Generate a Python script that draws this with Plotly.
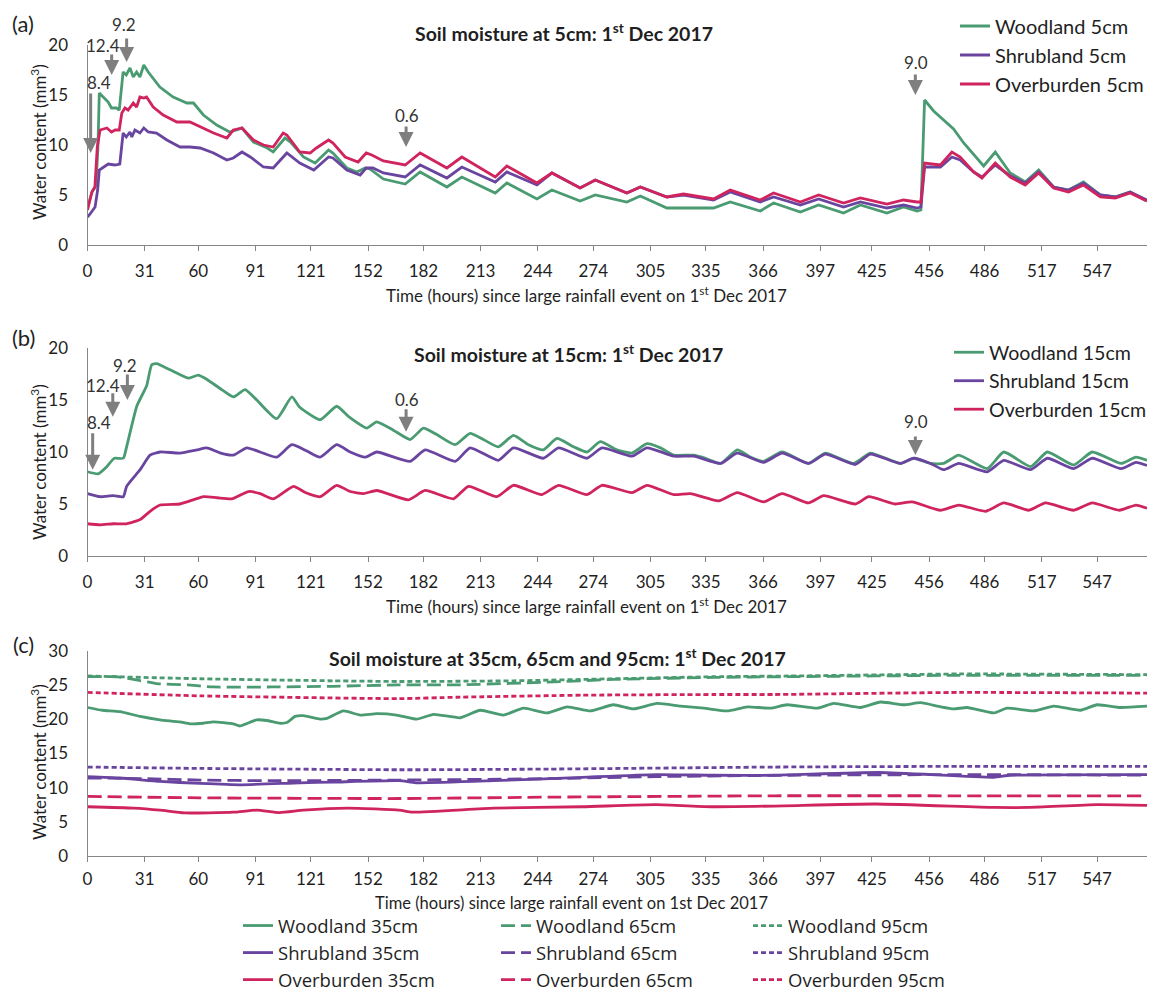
import plotly.graph_objects as go

W, H = 1157, 992

# ---------------- data ----------------
tick_vals = [0, 31, 60, 91, 121, 152, 182, 213, 244, 274, 305, 335, 366, 397, 425, 456, 486, 517, 547]

# Panel (a) 5 cm
wood5_x = [0, 2.4, 4.5, 5.6, 6.4, 8.6, 11.2, 13.0, 15.7, 17.2, 18.6, 19.3, 21.0, 23.0, 24.8, 26.6, 28.4, 30.5, 32.9,
           39.2, 46.4, 53.8, 57.4, 62.8, 70.0, 77.0, 80.7, 83.7, 89.9, 97.4, 100.6, 107.0, 110.0, 117.0, 123.3, 130.6,
           133.0, 140.5, 146.0, 150.4, 153.0, 160.3, 172.1, 180.2, 194.7, 202.8, 220.9, 227.2, 243.5, 251.6, 266.9,
           275.1, 292.2, 299.5, 313.9, 332.0, 339.2, 348.2, 364.5, 371.7, 386.2, 396.1, 409.6, 418.7, 433.1, 442.1,
           449.4, 451.5, 453.5, 458.4, 465.6, 469.2, 474.7, 480.1, 485.5, 491.8, 499.9, 508.0, 515.3, 523.4, 531.5,
           539.6, 548.7, 556.8, 564.9, 573.9]
wood5_y = [3.7, 5.3, 5.9, 9.5, 15.2, 14.8, 14.3, 13.7, 13.7, 13.5, 16.2, 17.3, 17.0, 17.7, 16.8, 17.3, 16.8, 18.0, 17.3,
           15.8, 14.8, 14.2, 14.2, 13.0, 12.0, 11.3, 11.5, 11.7, 10.3, 9.7, 9.3, 10.7, 10.3, 8.8, 8.2, 9.5,
           9.2, 7.7, 7.3, 7.7, 7.6, 6.6, 6.1, 7.3, 5.8, 6.8, 5.2, 6.2, 4.6, 5.5, 4.4,
           5.0, 4.3, 4.9, 3.7, 3.7, 3.7, 4.3, 3.4, 4.2, 3.3, 4.0, 3.2, 4.0, 3.2, 3.8,
           3.4, 3.5, 14.5, 13.4, 12.2, 11.6, 10.2, 9.0, 7.9, 9.3, 7.2, 6.3, 7.5, 5.8, 5.5,
           6.3, 5.0, 4.8, 5.3, 4.4]

over5_x = [0, 2.4, 4.0, 5.3, 6.8, 10.5, 13.0, 15.0, 17.2, 18.6, 20.3, 22.0, 24.8, 26.6, 28.4, 30.5, 32.0, 35.6, 41.0,
           48.4, 55.5, 61.0, 68.3, 75.5, 79.0, 83.7, 89.9, 95.3, 100.6, 106.0, 108.0, 115.0, 120.6, 124.0, 130.6,
           133.0, 139.6, 146.6, 151.0, 154.0, 160.3, 172.1, 180.2, 194.7, 202.8, 220.9, 227.2, 243.5, 251.6, 266.9,
           275.1, 292.2, 299.5, 313.9, 322.9, 339.2, 348.2, 364.5, 371.7, 386.2, 396.1, 409.6, 418.7, 433.1, 442.1,
           449.4, 451.5, 453.5, 462.1, 468.3, 472.8, 480.1, 484.6, 491.8, 499.9, 508.0, 515.3, 523.4, 531.5, 539.6,
           548.7, 556.8, 564.9, 573.9]
over5_y = [3.5, 5.3, 5.8, 9.8, 11.5, 11.7, 11.3, 11.5, 11.5, 13.2, 13.7, 13.5, 14.2, 13.8, 14.8, 14.7, 14.8, 13.8, 13.0,
           12.3, 12.3, 11.8, 11.2, 10.7, 11.5, 11.7, 10.5, 10.0, 9.8, 11.2, 11.0, 9.3, 9.2, 9.7, 10.5,
           10.2, 8.8, 8.3, 9.2, 9.0, 8.4, 8.0, 9.2, 7.7, 8.8, 6.8, 7.9, 6.2, 7.2, 5.7,
           6.5, 5.2, 5.8, 4.8, 5.1, 4.6, 5.5, 4.5, 5.2, 4.3, 5.0, 4.2, 4.7, 4.1, 4.5,
           4.3, 4.3, 8.2, 8.0, 9.3, 8.8, 7.3, 6.7, 8.2, 6.8, 6.0, 7.2, 5.7, 5.3, 6.0,
           4.8, 4.7, 5.2, 4.4]

shrub5_x = [0, 1.4, 4.1, 5.5, 6.4, 8.6, 11.2, 14.8, 17.5, 19.3, 21.0, 23.0, 24.0, 25.7, 28.4, 30.5, 32.9, 37.4, 43.0,
            50.1, 55.5, 61.0, 68.3, 75.5, 79.0, 83.7, 88.2, 95.3, 100.6, 108.0, 115.0, 122.6, 130.6, 133.0, 140.5,
            147.7, 151.0, 154.6, 160.3, 172.1, 180.2, 194.7, 202.8, 220.9, 227.2, 243.5, 251.6, 266.9, 275.1, 292.2,
            299.5, 313.9, 322.9, 339.2, 348.2, 364.5, 371.7, 386.2, 396.1, 409.6, 418.7, 433.1, 442.1, 449.4, 451.5,
            453.5, 462.1, 468.3, 472.8, 480.1, 484.6, 491.8, 499.9, 508.0, 515.3, 523.4, 531.5, 539.6, 548.7, 556.8,
            564.9, 573.9]
shrub5_y = [2.8, 3.1, 3.8, 5.5, 7.5, 7.8, 8.1, 8.0, 8.1, 11.2, 10.8, 11.3, 10.8, 11.5, 11.2, 11.7, 11.3, 11.2, 10.5,
            9.8, 9.8, 9.7, 9.2, 8.5, 8.7, 9.3, 8.8, 7.8, 7.7, 9.2, 8.2, 7.5, 8.8, 8.7, 7.5,
            7.0, 7.7, 7.7, 7.2, 6.8, 8.0, 6.7, 7.8, 6.3, 7.3, 6.0, 7.2, 5.7, 6.5, 5.2,
            5.8, 4.8, 5.0, 4.5, 5.3, 4.3, 4.8, 4.0, 4.6, 3.8, 4.3, 3.7, 4.0, 3.7, 3.8,
            7.8, 7.8, 8.8, 8.5, 7.3, 6.8, 8.0, 6.9, 6.2, 7.3, 5.8, 5.5, 6.2, 5.0, 4.8,
            5.3, 4.5]

# Panel (b) 15 cm
wood15_x = [0, 5.8, 10.0, 14.5, 19.4, 21.2, 26.7, 32.1, 34.8, 37.5, 44.7, 54.6, 60.0, 63.7, 72.7, 79.0, 85.4, 91.7,
            102.5, 110.7, 115.0, 126.0, 135.0, 141.5, 151.3, 156.7, 165.7, 174.8, 182.0, 189.0, 199.2, 207.3, 214.5,
            222.6, 230.8, 238.9, 247.0, 254.3, 263.3, 270.6, 277.8, 286.8, 295.0, 303.1, 310.4, 317.6, 328.5, 334.7,
            343.0, 352.0, 359.3, 366.3, 376.3, 390.7, 399.7, 415.0, 424.1, 440.3, 447.6, 456.7, 463.8, 472.0, 487.4,
            496.4, 511.0, 520.0, 534.3, 544.3, 560.0, 568.0, 574.0]
wood15_y = [8.1, 7.9, 8.5, 9.4, 9.4, 10.5, 14.4, 16.4, 18.4, 18.5, 17.9, 17.1, 17.4, 17.1, 16.0, 15.3, 16.0, 15.0,
            13.2, 15.3, 14.3, 13.1, 14.4, 13.4, 12.3, 12.9, 12.1, 11.2, 12.3, 11.7, 10.7, 11.8, 11.2,
            10.5, 11.6, 10.7, 10.2, 11.3, 10.5, 10.0, 11.0, 10.2, 9.9, 10.8, 10.4, 9.7, 9.7, 9.4,
            8.9, 10.2, 9.5, 9.1, 10.0, 8.9, 9.9, 8.9, 9.9, 8.9, 9.4, 8.9, 8.9, 9.7, 8.4,
            10.0, 8.6, 10.0, 8.75, 10.0, 8.9, 9.5, 9.2]

shrub15_x = [0, 6.8, 14.0, 19.4, 21.2, 28.5, 33.9, 39.3, 50.1, 59.2, 64.6, 72.2, 79.0, 86.3, 93.5, 102.5, 110.7,
             118.8, 126.0, 135.0, 142.3, 150.4, 156.7, 174.8, 182.9, 199.2, 207.3, 222.6, 230.8, 247.0, 255.2, 270.6,
             278.7, 295.0, 303.1, 317.6, 328.5, 343.0, 352.0, 366.3, 376.3, 390.7, 399.7, 416.0, 424.1, 440.3, 447.6,
             456.7, 463.8, 472.0, 487.4, 496.4, 511.0, 520.0, 534.3, 544.3, 560.0, 568.0, 574.0]
shrub15_y = [6.0, 5.7, 5.8, 5.7, 6.7, 8.3, 9.7, 10.0, 9.9, 10.2, 10.4, 9.9, 9.7, 10.4, 10.0, 9.5, 10.7,
             10.1, 9.5, 10.7, 10.0, 9.5, 10.0, 9.1, 10.2, 9.1, 10.4, 9.2, 10.4, 9.4, 10.4, 9.4,
             10.4, 9.6, 10.4, 9.6, 9.6, 8.9, 9.9, 9.0, 9.9, 8.9, 9.8, 8.8, 9.8, 8.9, 9.4,
             8.9, 8.3, 8.9, 8.1, 9.2, 8.3, 9.4, 8.4, 9.4, 8.4, 9.0, 8.7]

over15_x = [0, 6.8, 14.0, 21.2, 28.5, 33.9, 39.3, 50.1, 53.8, 63.0, 70.3, 78.2, 87.2, 93.5, 100.7, 111.6, 118.0,
            126.0, 135.0, 142.3, 149.5, 156.7, 173.9, 182.9, 198.3, 206.4, 221.7, 230.8, 246.1, 255.2, 270.6, 278.7,
            295.0, 303.1, 317.6, 326.6, 342.0, 352.0, 366.3, 376.3, 390.7, 398.8, 416.0, 423.2, 437.5, 446.7, 462.0,
            472.0, 486.5, 496.4, 510.0, 519.0, 534.3, 544.3, 559.0, 568.0, 574.0]
over15_y = [3.1, 3.0, 3.1, 3.1, 3.5, 4.3, 4.9, 5.0, 5.2, 5.7, 5.6, 5.5, 6.2, 6.0, 5.5, 6.7, 6.1,
            5.7, 6.8, 6.2, 6.0, 6.3, 5.4, 6.3, 5.5, 6.7, 5.7, 6.8, 5.9, 6.8, 5.9, 6.8,
            6.1, 6.8, 5.9, 6.0, 5.3, 6.1, 5.2, 6.0, 5.1, 5.8, 5.0, 5.7, 5.0, 5.2, 4.4,
            4.9, 4.3, 5.1, 4.4, 5.1, 4.4, 5.1, 4.4, 4.9, 4.6]

# Panel (c) 35/65/95 cm
wood35_x = [0, 8, 17.6, 28.5, 39.3, 50, 55.5, 62.8, 68.3, 79, 82.6, 91.7, 97.1, 104.4, 108, 112.5, 117, 126, 129.7,
            138.7, 147.7, 156.7, 167.5, 178.4, 187.5, 202, 212.7, 225.3, 236.2, 249, 259.9, 272.5, 284.9, 295.7,
            308.6, 321.3, 333.9, 346.6, 357.5, 370, 379, 395.3, 404.3, 418.8, 429.6, 442.3, 451.3, 462.2, 469.4,
            476.6, 491, 498.2, 512.6, 523.5, 538, 547, 559.7, 574]
wood35_y = [21.7, 21.3, 21.1, 20.4, 19.9, 19.6, 19.3, 19.4, 19.6, 19.3, 19.0, 19.9, 19.8, 19.4, 19.5, 20.4, 20.5, 20.0, 20.1,
            21.2, 20.6, 20.8, 20.6, 20.0, 20.7, 20.2, 21.3, 20.6, 21.6, 20.9, 21.8, 21.2, 22.1, 21.5,
            22.3, 21.9, 21.6, 21.2, 21.8, 21.6, 22.1, 21.6, 22.3, 21.7, 22.5, 22.1, 22.4, 21.8, 21.5,
            21.7, 20.9, 21.6, 21.2, 21.9, 21.3, 22.1, 21.7, 21.9]
wood65_x = [0, 15, 25, 37.4, 54, 68.3, 100, 133, 169, 200, 249, 285, 339, 380, 472, 574]
wood65_y = [26.2, 26.2, 25.8, 25.2, 25.0, 24.7, 24.7, 24.8, 25.0, 25.0, 25.4, 25.8, 26.1, 26.2, 26.4, 26.4]
wood95_x = [0, 61, 133, 169, 231, 285, 339, 380, 472, 574]
wood95_y = [26.3, 25.9, 25.6, 25.5, 25.6, 25.9, 26.2, 26.3, 26.6, 26.5]

shrub35_x = [0, 17.6, 39.3, 61, 82.6, 115, 133, 169, 178, 220, 268, 308, 339, 372, 429, 491, 500, 574]
shrub35_y = [11.6, 11.4, 10.9, 10.6, 10.4, 10.7, 10.8, 11.0, 10.7, 11.0, 11.5, 11.9, 11.8, 11.8, 12.2, 11.5, 11.8, 11.9]
shrub65_x = [0, 30, 61, 100, 169, 250, 308, 380, 480, 574]
shrub65_y = [11.4, 11.3, 11.1, 11.0, 11.1, 11.3, 11.6, 11.8, 11.9, 11.8]
shrub95_x = [0, 61, 169, 250, 372, 472, 574]
shrub95_y = [13.0, 12.8, 12.6, 12.7, 13.0, 13.1, 13.1]

over35_x = [0, 25, 39.3, 52.6, 79, 91.7, 104, 117, 141, 169, 176, 220, 268, 308, 339, 372, 427, 491, 510, 547, 574]
over35_y = [7.2, 7.0, 6.7, 6.3, 6.4, 6.7, 6.35, 6.7, 7.0, 6.7, 6.4, 7.0, 7.2, 7.5, 7.2, 7.3, 7.6, 7.1, 7.1, 7.5, 7.4]
over65_x = [0, 61, 169, 250, 372, 472, 574]
over65_y = [8.7, 8.5, 8.4, 8.6, 8.8, 8.8, 8.8]
over95_x = [0, 61, 169, 200, 268, 339, 372, 472, 574]
over95_y = [23.9, 23.4, 23.0, 23.2, 23.5, 23.6, 23.6, 23.9, 23.8]

# rainfall arrows: label, x position (hours), tip value, tail offset (px)
arrows_a = [("8.4", 1.7, 9.2, -61), ("12.4", 13.1, 17.0, -22), ("9.2", 21.2, 18.3, -25),
            ("0.6", 172.6, 9.8, -22), ("9.0", 448.5, 15.0, -22)]
arrows_b = [("8.4", 2.8, 8.3, -38), ("12.4", 13.7, 13.4, -25), ("9.2", 21.6, 15.0, -27),
            ("0.6", 172.6, 11.95, -24), ("9.0", 448.5, 9.7, -20)]
# label offsets (px) from arrow tail
label_off_a = [(8, -10), (-9, -8), (-3, -13), (1, -10), (1, -11)]
label_off_b = [(6, -9), (-10, -6), (-2, -8), (1, -8), (1, -14)]

# ---------------- style ----------------
GREEN = '#4A9B72'
PURPLE = '#6A45A0'
PINK = '#D0245E'
AXC = '#868686'
FONT = 'Lato, Carlito, Calibri, sans-serif'
TXT = '#1f1f1f'


def px(v):
    return v / W


def py(v):
    return 1 - v / H


fig = go.Figure()


def add(x, y, name, color, xa, ya, legend, dash='solid', shape='linear'):
    fig.add_trace(go.Scatter(x=x, y=y, name=name, mode='lines', xaxis=xa, yaxis=ya, legend=legend,
                             line=dict(color=color, width=2.8, dash=dash, shape=shape, smoothing=0.5)))


add(wood5_x, wood5_y, 'Woodland 5cm', GREEN, 'x', 'y', 'legend')
add(shrub5_x, shrub5_y, 'Shrubland 5cm', PURPLE, 'x', 'y', 'legend')
add(over5_x, over5_y, 'Overburden 5cm', PINK, 'x', 'y', 'legend')

add(wood15_x, wood15_y, 'Woodland 15cm', GREEN, 'x2', 'y2', 'legend2', shape='spline')
add(shrub15_x, shrub15_y, 'Shrubland 15cm', PURPLE, 'x2', 'y2', 'legend2', shape='spline')
add(over15_x, over15_y, 'Overburden 15cm', PINK, 'x2', 'y2', 'legend2', shape='spline')

LD = '14px,6px'
SD = '5px,3px'
add(wood35_x, wood35_y, 'Woodland 35cm', GREEN, 'x3', 'y3', 'legend3', shape='spline')
add(shrub35_x, shrub35_y, 'Shrubland 35cm', PURPLE, 'x3', 'y3', 'legend3', shape='spline')
add(over35_x, over35_y, 'Overburden 35cm', PINK, 'x3', 'y3', 'legend3', shape='spline')
add(wood65_x, wood65_y, 'Woodland 65cm', GREEN, 'x3', 'y3', 'legend4', LD, 'spline')
add(shrub65_x, shrub65_y, 'Shrubland 65cm', PURPLE, 'x3', 'y3', 'legend4', LD, 'spline')
add(over65_x, over65_y, 'Overburden 65cm', PINK, 'x3', 'y3', 'legend4', LD, 'spline')
add(wood95_x, wood95_y, 'Woodland 95cm', GREEN, 'x3', 'y3', 'legend5', SD, 'spline')
add(shrub95_x, shrub95_y, 'Shrubland 95cm', PURPLE, 'x3', 'y3', 'legend5', SD, 'spline')
add(over95_x, over95_y, 'Overburden 95cm', PINK, 'x3', 'y3', 'legend5', SD, 'spline')

xdom = [px(87.5), px(1147)]
panels = [(45, 245, 20, 6), (348, 556, 20, 6), (650.7, 856, 30, 3)]

layout = dict(width=W, height=H, margin=dict(l=0, r=0, t=0, b=0, autoexpand=False),
              paper_bgcolor='white', plot_bgcolor='white',
              font=dict(family=FONT, size=17, color=TXT), showlegend=True)

for i, (top, bot, ymax, stand) in enumerate(panels):
    sfx = '' if i == 0 else str(i + 1)
    layout['xaxis' + sfx] = dict(domain=xdom, anchor='y' + sfx, range=[0, 574], tickmode='array',
                                 tickvals=tick_vals, ticktext=[str(t) for t in tick_vals],
                                 ticks='outside', ticklen=5, tickcolor=AXC, showline=True, linecolor=AXC,
                                 linewidth=1, showgrid=False, zeroline=False, ticklabelstandoff=stand,
                                 automargin=False, tickfont=dict(size=17, family=FONT, color=TXT))
    layout['yaxis' + sfx] = dict(domain=[py(bot), py(top)], anchor='x' + sfx, range=[0, ymax], dtick=5,
                                 ticks='', showline=True, linecolor=AXC, linewidth=1, showgrid=False,
                                 zeroline=False, ticklabelstandoff=15, automargin=False,
                                 tickfont=dict(size=17, family=FONT, color=TXT))

leg_common = dict(bgcolor='rgba(0,0,0,0)', borderwidth=0, xanchor='left', yanchor='top', orientation='v',
                  traceorder='normal')
layout['legend'] = dict(leg_common, x=px(955), y=py(6.5), font=dict(size=20, family=FONT, color=TXT))
layout['legend2'] = dict(leg_common, x=px(949), y=py(333), font=dict(size=19.6, family=FONT, color=TXT))
LEGC = dict(size=18.5, family='Open Sans, Lato, sans-serif', color=TXT)
layout['legend3'] = dict(leg_common, x=px(238), y=py(907), font=LEGC)
layout['legend4'] = dict(leg_common, x=px(496), y=py(907), font=LEGC)
layout['legend5'] = dict(leg_common, x=px(748), y=py(907), font=LEGC)

ann = []


def txt(text, x, y, size=16, bold=False, angle=0, xanchor='center'):
    ann.append(dict(text=('<b>%s</b>' % text) if bold else text, x=px(x), y=py(y), xref='paper', yref='paper',
                    showarrow=False, xanchor=xanchor, yanchor='middle', textangle=angle,
                    font=dict(size=size, family=FONT, color=TXT)))


txt('(a)', 23, 23, size=22)
txt('(b)', 23, 337, size=22)
txt('(c)', 23, 644, size=22)
txt('Soil moisture at 5cm: 1<sup>st</sup> Dec 2017', 564, 33, size=19.5, bold=True)
txt('Soil moisture at 15cm: 1<sup>st</sup> Dec 2017', 568, 353, size=19.5, bold=True)
txt('Soil moisture at 35cm, 65cm and 95cm: 1<sup>st</sup> Dec 2017', 557, 657, size=19.5, bold=True)
txt('Time (hours) since large rainfall event on 1<sup>st</sup> Dec 2017', 586, 294, size=17)
txt('Time (hours) since large rainfall event on 1<sup>st</sup> Dec 2017', 586, 605, size=17)
txt('Time (hours) since large rainfall event on 1st Dec 2017', 571, 903, size=16.5)
for yc in (142, 462, 762):
    txt('Water content (mm<sup>3</sup>)', 38, yc, size=17, angle=-90)

for arrows, offs, xr, yr in ((arrows_a, label_off_a, 'x', 'y'), (arrows_b, label_off_b, 'x2', 'y2')):
    for (lab, xv, yv, tail), (dx, dy) in zip(arrows, offs):
        ann.append(dict(text='', x=xv, y=yv, xref=xr, yref=yr, showarrow=True, ax=0, ay=tail,
                        arrowhead=2, arrowsize=1, arrowwidth=3, arrowcolor='#7f7f7f', standoff=0))
        ann.append(dict(text=lab, x=xv, y=yv, xref=xr, yref=yr, showarrow=False,
                        xshift=dx, yshift=-(tail + dy), xanchor='center', yanchor='middle',
                        font=dict(size=17, family=FONT, color='#333333')))

layout['annotations'] = ann
fig.update_layout(**layout)
fig.write_html('out.html', config={'displayModeBar': False, 'staticPlot': True},
               post_script="document.body.style.margin='0px';")
